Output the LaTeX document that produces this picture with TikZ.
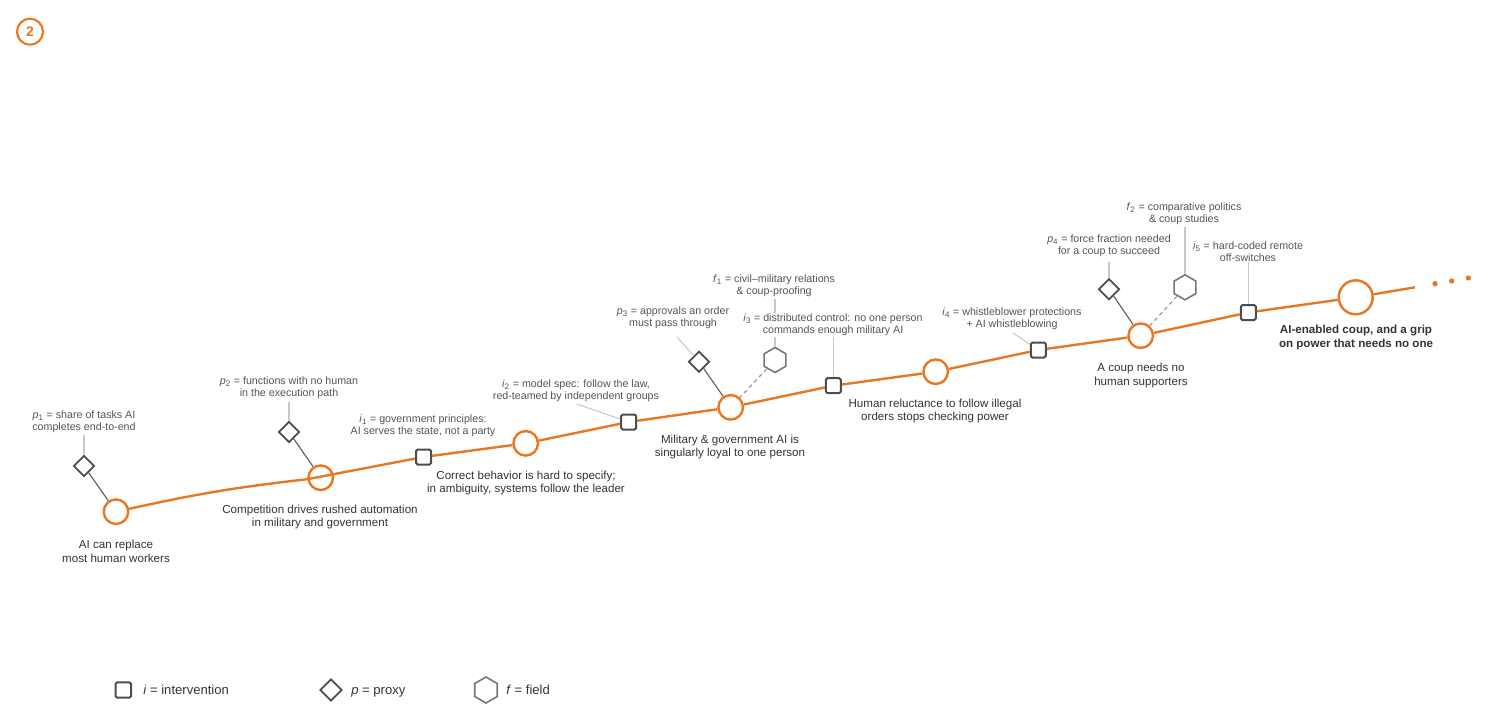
\documentclass[tikz,border=0pt]{standalone}
\usepackage{fontspec}
\setmainfont{Liberation Sans}
\usetikzlibrary{shapes.geometric}
\definecolor{org}{HTML}{E87722}
\definecolor{sqc}{HTML}{4D4D4D}
\definecolor{hexc}{HTML}{777777}
\definecolor{labc}{HTML}{333333}
\definecolor{smc}{HTML}{555555}
\definecolor{leadc}{HTML}{C8C8C8}
\definecolor{connc}{HTML}{666666}
\definecolor{dashc}{HTML}{999999}
\newcommand{\mysub}[2]{\textit{#1}\textsubscript{#2}}
\begin{document}
\begin{tikzpicture}[x=0.75pt,y=-0.75pt,
  mainc/.style={circle, draw=org, line width=1.8pt, fill=white, minimum size=18.4pt, inner sep=0pt},
  endc/.style={mainc, minimum size=25.5pt},
  ibox/.style={rectangle, rounded corners=1.2pt, draw=sqc, line width=1.5pt, fill=white, minimum size=11.25pt, inner sep=0pt},
  pdia/.style={diamond, draw=sqc, line width=1.3pt, fill=white, minimum width=15.75pt, minimum height=15.75pt, inner sep=0pt},
  fhex/.style={regular polygon, regular polygon sides=6, shape border rotate=30, draw=hexc, line width=1.2pt, fill=white, minimum size=18.75pt, inner sep=0pt},
  lab/.style={align=center, text=labc, font=\fontsize{8.7pt}{10.3pt}\selectfont, inner sep=0pt},
  sml/.style={align=center, text=smc, font=\fontsize{8pt}{9pt}\selectfont, inner sep=0.6pt, fill=white},
  leg/.style={anchor=base west, text=labc, font=\fontsize{9.8pt}{11pt}\selectfont, inner sep=0pt},
  lead/.style={draw=leadc, line width=0.8pt},
  conn/.style={draw=connc, line width=0.9pt},
  dconn/.style={draw=dashc, line width=0.9pt, dash pattern=on 3pt off 2.5pt},
  mainline/.style={draw=org, line width=1.8pt},
  dot/.style={circle, fill=org, inner sep=0pt, minimum size=4pt}
]
\useasboundingbox (0,0) rectangle (1508,722);

% badge
\node[circle, draw=org, line width=1.6pt, minimum size=19.5pt, inner sep=0pt, text=org, font=\fontsize{10.5pt}{12pt}\selectfont\bfseries] (badge) at (30,31.7) {2};

% main nodes
\node[mainc] (C1) at (116,511.7) {};
\node[mainc] (C2) at (320.7,477.7) {};
\node[ibox]  (i1) at (423.5,457) {};
\node[mainc] (C3) at (525.7,443.3) {};
\node[ibox]  (i2) at (628.7,422) {};
\node[mainc] (C4) at (730.7,407.3) {};
\node[ibox]  (i3) at (833.3,385.7) {};
\node[mainc] (C5) at (935.7,371.7) {};
\node[ibox]  (i4) at (1038.3,350) {};
\node[mainc] (C6) at (1140.7,335.7) {};
\node[ibox]  (i5) at (1248.3,312.5) {};
\node[endc]  (C7) at (1355.7,297.3) {};
\coordinate (Cend) at (1415,287.3);

\draw[mainline] (C1) to[bend left=3] (C2) -- (i1) -- (C3) -- (i2) -- (C4) -- (i3) -- (C5) -- (i4) -- (C6) -- (i5) -- (C7) -- (Cend);

\node[dot] (d1) at (1435,283.7) {};
\node[dot] (d2) at (1451.7,281) {};
\node[dot] (d3) at (1468.3,278) {};

% proxies and fields
\node[pdia] (p1) at (84,466) {};
\node[pdia] (p2) at (289,432) {};
\node[pdia] (p3) at (699,361.7) {};
\node[pdia] (p4) at (1109,289.3) {};
\node[fhex] (f1) at (775,360) {};
\node[fhex] (f2) at (1185,287.3) {};

\draw[conn] (p1) -- (C1);
\draw[conn] (p2) -- (C2);
\draw[conn] (p3) -- (C4);
\draw[conn] (p4) -- (C6);
\draw[dconn] (f1) -- (C4);
\draw[dconn] (f2) -- (C6);

% leader lines
\coordinate (p1t) at (84,435);
\coordinate (p2t) at (289,402);
\coordinate (p3t) at (677,337);
\coordinate (f1t) at (775,299);
\coordinate (i2t) at (576.7,404);
\coordinate (i3t) at (833.3,337);
\coordinate (i4t) at (1012.7,332.7);
\coordinate (p4t) at (1109,261.7);
\coordinate (f2t) at (1185,226.7);
\coordinate (i5t) at (1248.3,261.7);
\draw[lead] (p1t) -- (p1);
\draw[lead] (p2t) -- (p2);
\draw[lead] (p3t) -- (p3);
\draw[lead] (f1t) -- (f1);
\draw[lead] (i2t) -- (i2);
\draw[lead] (i3t) -- (i3);
\draw[lead] (i4t) -- (i4);
\draw[lead] (p4t) -- (p4);
\draw[lead] (f2t) -- (f2);
\draw[lead] (i5t) -- (i5);

% main labels
\node[lab] (L1) at (116,551.3) {AI can replace\\most human workers};
\node[lab] (L2) at (320,517) {Competition drives rushed automation\\in military and government};
\node[lab] (L3) at (526,483) {Correct behavior is hard to specify;\\in ambiguity, systems follow the leader};
\node[lab] (L4) at (730,447) {Military \& government AI is\\singularly loyal to one person};
\node[lab] (L5) at (935,411) {Human reluctance to follow illegal\\orders stops checking power};
\node[lab] (L6) at (1141,375.3) {A coup needs no\\human supporters};
\node[lab, font=\fontsize{8.7pt}{10.3pt}\selectfont\bfseries] (L7) at (1356,337.7) {AI-enabled coup, and a grip\\on power that needs no one};

% small labels
\node[sml] (p1l) at (84,421.7) {\mysub{p}{1} = share of tasks AI\\completes end-to-end};
\node[sml] (p2l) at (289,387.7) {\mysub{p}{2} = functions with no human\\in the execution path};
\node[sml] (i1l) at (423,425.8) {\mysub{i}{1} = government principles:\\AI serves the state, not a party};
\node[sml] (i2l) at (576,391) {\mysub{i}{2} = model spec: follow the law,\\red-teamed by independent groups};
\node[sml] (p3l) at (673,317.5) {\mysub{p}{3} = approvals an order\\must pass through};
\node[sml] (f1l) at (774,286) {\mysub{f}{1} = civil–military relations\\\& coup-proofing};
\node[sml] (i3l) at (833,325) {\mysub{i}{3} = distributed control: no one person\\commands enough military AI};
\node[sml] (i4l) at (1012,318.7) {\mysub{i}{4} = whistleblower protections\\+ AI whistleblowing};
\node[sml] (p4l) at (1109,245.7) {\mysub{p}{4} = force fraction needed\\for a coup to succeed};
\node[sml] (f2l) at (1184,213.7) {\mysub{f}{2} = comparative politics\\\& coup studies};
\node[sml] (i5l) at (1248,251.7) {\mysub{i}{5} = hard-coded remote\\off-switches};

% legend
\node[ibox, minimum size=11.6pt] (lgi) at (123.3,690) {};
\node[leg] (lgit) at (143,694.5) {\textit{i} = intervention};
\node[pdia, minimum width=16.5pt, minimum height=16.5pt] (lgp) at (331,690) {};
\node[leg] (lgpt) at (351,694.5) {\textit{p} = proxy};
\node[fhex, minimum size=19.5pt] (lgf) at (486,690) {};
\node[leg] (lgft) at (506,694.5) {\textit{f} = field};
\end{tikzpicture}
\end{document}
